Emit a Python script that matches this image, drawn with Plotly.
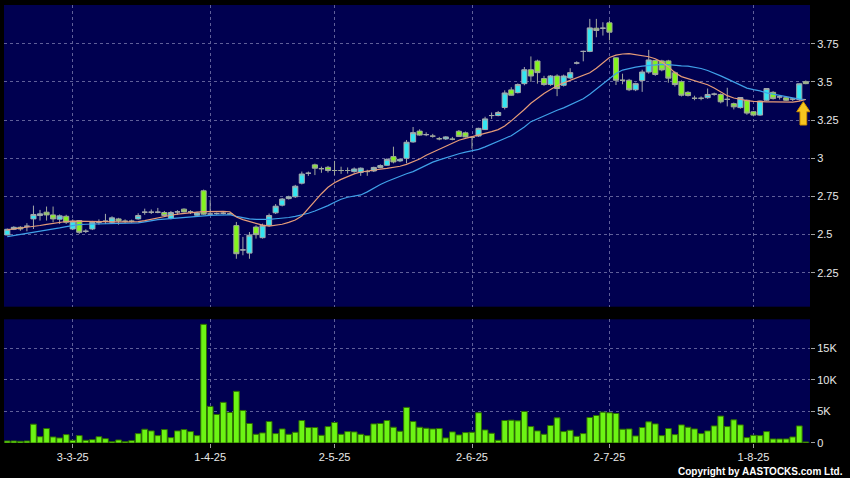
import plotly.graph_objects as go

# ---------------- data ----------------
open_ = [2.498, 2.535, 2.548, 2.555, 2.603, 2.625, 2.647, 2.629, 2.601, 2.620,
         2.537, 2.592, 2.522, 2.537, 2.581, 2.588, 2.581, 2.603, 2.588, 2.588,
         2.603, 2.647, 2.647, 2.647, 2.645, 2.607, 2.649, 2.667, 2.649, 2.627,
         2.787, 2.635, 2.638, 2.640, 2.636, 2.559, 2.400, 2.379, 2.550, 2.480,
         2.561, 2.643, 2.693, 2.736, 2.748, 2.837, 2.902, 2.957, 2.932, 2.941,
         2.920, 2.920, 2.920, 2.913, 2.907, 2.913, 2.917, 2.940, 2.954, 3.011,
         2.983, 3.000, 3.107, 3.178, 3.155, 3.145, 3.128, 3.127, 3.125, 3.177,
         3.167, 3.137, 3.146, 3.188, 3.280, 3.280, 3.333, 3.448, 3.430, 3.489,
         3.580, 3.637, 3.522, 3.483, 3.539, 3.478, 3.526, 3.624, 3.700, 3.700,
         3.852, 3.852, 3.887, 3.658, 3.511, 3.511, 3.449, 3.509, 3.565, 3.641,
         3.638, 3.638, 3.560, 3.502, 3.432, 3.393, 3.393, 3.397, 3.420, 3.418,
         3.386, 3.358, 3.332, 3.380, 3.305, 3.283, 3.380, 3.432, 3.402, 3.397,
         3.388, 3.385, 3.502]
high = [2.540, 2.555, 2.555, 2.575, 2.690, 2.662, 2.684, 2.684, 2.632, 2.630,
        2.600, 2.595, 2.535, 2.590, 2.600, 2.636, 2.620, 2.610, 2.600, 2.598,
        2.640, 2.670, 2.665, 2.675, 2.655, 2.655, 2.660, 2.672, 2.660, 2.650,
        2.795, 2.726, 2.645, 2.648, 2.645, 2.583, 2.485, 2.517, 2.561, 2.572,
        2.638, 2.700, 2.740, 2.755, 2.826, 2.913, 2.913, 2.965, 2.945, 2.950,
        2.983, 2.945, 2.940, 2.940, 2.940, 2.925, 2.945, 2.960, 3.000, 3.076,
        3.000, 3.120, 3.205, 3.190, 3.170, 3.160, 3.140, 3.145, 3.140, 3.185,
        3.175, 3.142, 3.200, 3.272, 3.300, 3.310, 3.445, 3.465, 3.490, 3.598,
        3.667, 3.646, 3.540, 3.545, 3.550, 3.548, 3.590, 3.635, 3.705, 3.913,
        3.913, 3.891, 3.902, 3.660, 3.554, 3.520, 3.495, 3.580, 3.710, 3.645,
        3.645, 3.645, 3.570, 3.510, 3.440, 3.410, 3.405, 3.457, 3.430, 3.425,
        3.462, 3.365, 3.400, 3.385, 3.310, 3.378, 3.460, 3.440, 3.410, 3.405,
        3.395, 3.490, 3.510]
low = [2.495, 2.530, 2.525, 2.522, 2.537, 2.592, 2.592, 2.581, 2.570, 2.570,
       2.530, 2.505, 2.510, 2.530, 2.565, 2.570, 2.575, 2.565, 2.575, 2.578,
       2.598, 2.630, 2.635, 2.640, 2.620, 2.600, 2.630, 2.645, 2.635, 2.620,
       2.630, 2.625, 2.630, 2.632, 2.628, 2.342, 2.365, 2.342, 2.474, 2.474,
       2.555, 2.635, 2.685, 2.730, 2.740, 2.829, 2.885, 2.890, 2.905, 2.907,
       2.890, 2.898, 2.900, 2.905, 2.885, 2.885, 2.910, 2.935, 2.950, 2.967,
       2.975, 2.967, 3.102, 3.148, 3.145, 3.135, 3.118, 3.120, 3.118, 3.140,
       3.137, 3.062, 3.140, 3.185, 3.258, 3.275, 3.320, 3.410, 3.425, 3.478,
       3.500, 3.489, 3.475, 3.475, 3.407, 3.470, 3.520, 3.615, 3.635, 3.695,
       3.793, 3.804, 3.772, 3.480, 3.485, 3.440, 3.440, 3.435, 3.554, 3.540,
       3.570, 3.495, 3.470, 3.405, 3.405, 3.380, 3.380, 3.390, 3.410, 3.360,
       3.340, 3.320, 3.325, 3.285, 3.275, 3.278, 3.375, 3.385, 3.385, 3.375,
       3.375, 3.375, 3.485]
close = [2.535, 2.548, 2.537, 2.555, 2.632, 2.636, 2.629, 2.603, 2.623, 2.581,
         2.588, 2.515, 2.522, 2.581, 2.581, 2.588, 2.610, 2.590, 2.588, 2.588,
         2.625, 2.647, 2.647, 2.647, 2.625, 2.645, 2.649, 2.649, 2.649, 2.642,
         2.634, 2.635, 2.638, 2.640, 2.636, 2.375, 2.400, 2.496, 2.500, 2.561,
         2.625, 2.686, 2.733, 2.748, 2.817, 2.897, 2.902, 2.935, 2.932, 2.920,
         2.920, 2.920, 2.920, 2.930, 2.935, 2.913, 2.940, 2.952, 2.993, 2.976,
         2.993, 3.105, 3.168, 3.152, 3.155, 3.145, 3.128, 3.140, 3.125, 3.143,
         3.140, 3.137, 3.196, 3.258, 3.280, 3.300, 3.428, 3.413, 3.483, 3.580,
         3.539, 3.561, 3.483, 3.539, 3.457, 3.539, 3.561, 3.624, 3.700, 3.854,
         3.837, 3.852, 3.826, 3.511, 3.511, 3.449, 3.489, 3.565, 3.644, 3.549,
         3.579, 3.525, 3.483, 3.413, 3.411, 3.393, 3.393, 3.418, 3.420, 3.370,
         3.386, 3.337, 3.398, 3.296, 3.283, 3.375, 3.457, 3.391, 3.402, 3.380,
         3.388, 3.488, 3.489]
volume = [320, 320, 270, 320, 2980, 1000, 2290, 960, 800, 1330,
          430, 1170, 430, 530, 1000, 690, 210, 480, 210, 370,
          1490, 2180, 1920, 1170, 2130, 850, 1920, 2130, 1810, 1170,
          18800, 5800, 4520, 6440, 4840, 8190, 5160, 3090, 1380, 1600,
          3400, 1490, 2230, 1380, 1700, 3560, 2450, 2450, 1220, 2600,
          3250, 1380, 1810, 1760, 1380, 1170, 3030, 3090, 3560, 2500,
          1860, 5640, 3400, 2500, 2340, 2230, 2290, 800, 1760, 1280,
          1650, 1700, 4790, 2070, 1540, 430, 3560, 3620, 3510, 5000,
          2600, 1920, 1380, 2770, 3990, 1810, 2020, 1060, 1490, 4040,
          4360, 4890, 4790, 4680, 2180, 2230, 1120, 2450, 3350, 3030,
          1170, 2290, 1330, 2870, 2500, 2230, 1490, 1920, 2710, 4260,
          2600, 3670, 2870, 850, 1220, 1170, 1810, 640, 640, 640,
          960, 2710, 160]
ma_fast = [2.532, 2.537, 2.541, 2.546, 2.553, 2.560, 2.567, 2.574, 2.581, 2.586,
           2.588, 2.588, 2.586, 2.586, 2.588, 2.588, 2.586, 2.584, 2.583, 2.582,
           2.585, 2.592, 2.602, 2.612, 2.620, 2.627, 2.634, 2.640, 2.645, 2.648,
           2.651, 2.652, 2.652, 2.652, 2.650, 2.615, 2.598, 2.585, 2.572, 2.562,
           2.556, 2.560, 2.568, 2.580, 2.596, 2.622, 2.672, 2.720, 2.768, 2.810,
           2.840, 2.862, 2.882, 2.898, 2.910, 2.918, 2.924, 2.929, 2.934, 2.939,
           2.948, 2.960, 2.975, 2.995, 3.020, 3.040, 3.062, 3.083, 3.100, 3.118,
           3.130, 3.140, 3.150, 3.162, 3.175, 3.188, 3.212, 3.245, 3.280, 3.320,
           3.360, 3.395, 3.425, 3.450, 3.475, 3.494, 3.510, 3.525, 3.540, 3.560,
           3.590, 3.625, 3.660, 3.676, 3.683, 3.685, 3.678, 3.672, 3.665, 3.652,
           3.630, 3.600, 3.560, 3.535, 3.522, 3.512, 3.500, 3.482, 3.460, 3.435,
           3.410, 3.395, 3.385, 3.378, 3.373, 3.370, 3.370, 3.370, 3.368, 3.366,
           3.368, 3.375, 3.385]
ma_slow = [2.487, 2.494, 2.500, 2.507, 2.515, 2.521, 2.527, 2.535, 2.544, 2.553,
           2.561, 2.566, 2.568, 2.569, 2.570, 2.571, 2.572, 2.573, 2.574, 2.575,
           2.577, 2.584, 2.592, 2.598, 2.601, 2.605, 2.609, 2.613, 2.617, 2.620,
           2.623, 2.626, 2.628, 2.630, 2.630, 2.620, 2.610, 2.603, 2.600, 2.599,
           2.600, 2.604, 2.607, 2.612, 2.620, 2.628, 2.640, 2.655, 2.670, 2.690,
           2.712, 2.732, 2.745, 2.753, 2.760, 2.780, 2.805, 2.828, 2.848, 2.866,
           2.884, 2.899, 2.913, 2.935, 2.958, 2.975, 2.990, 3.005, 3.018, 3.030,
           3.040, 3.048, 3.058, 3.075, 3.095, 3.110, 3.130, 3.148, 3.175, 3.205,
           3.240, 3.260, 3.278, 3.295, 3.315, 3.330, 3.350, 3.370, 3.390, 3.420,
           3.455, 3.490, 3.525, 3.555, 3.578, 3.590, 3.597, 3.603, 3.608, 3.612,
           3.615, 3.613, 3.608, 3.605, 3.603, 3.598, 3.588, 3.575, 3.560, 3.540,
           3.520, 3.500, 3.478, 3.460, 3.450, 3.442, 3.428, 3.420, 3.410, 3.402,
           3.392, 3.387, 3.385]

date_tick_index = [10, 31, 50, 71, 92, 114]
date_tick_labels = ["3-3-25", "1-4-25", "2-5-25", "2-6-25", "2-7-25", "1-8-25"]
price_ticks = [2.25, 2.5, 2.75, 3, 3.25, 3.5, 3.75]
price_tick_labels = ["2.25", "2.5", "2.75", "3", "3.25", "3.5", "3.75"]
vol_ticks = [0, 5000, 10000, 15000]
vol_tick_labels = ["0", "5K", "10K", "15K"]

# ---------------- styling ----------------
FONT = "Liberation Sans, Arial, sans-serif"
GRID = "#5f5f99"
TICKC = "#a0a0a0"
LABEL = "#e8e8e8"

x = list(range(len(close)))

fig = go.Figure()
fig.add_trace(go.Candlestick(
    x=x, open=open_, high=high, low=low, close=close,
    xaxis="x", yaxis="y",
    increasing=dict(fillcolor="#33e6f2", line=dict(color="#a4aaac", width=1)),
    decreasing=dict(fillcolor="#84f41e", line=dict(color="#a0a89c", width=1)),
    whiskerwidth=0, showlegend=False, hoverinfo="skip"))
fig.add_trace(go.Scatter(x=x, y=ma_slow, mode="lines", xaxis="x", yaxis="y",
                         line=dict(color="#3fa0e8", width=1.2), showlegend=False,
                         hoverinfo="skip"))
fig.add_trace(go.Scatter(x=x, y=ma_fast, mode="lines", xaxis="x", yaxis="y",
                         line=dict(color="#e69b78", width=1.2), showlegend=False,
                         hoverinfo="skip"))
fig.add_trace(go.Bar(x=x, y=volume, xaxis="x2", yaxis="y2",
                     marker=dict(color="#6cf414", line=dict(color="#2f6e00", width=1)),
                     showlegend=False, hoverinfo="skip"))

xr = [-0.5, len(close) - 0.36]
common_x = dict(range=xr, tickvals=date_tick_index, showgrid=True, gridcolor=GRID,
                gridwidth=1, griddash="3px,3px", zeroline=False, showline=False,
                fixedrange=True)
common_y = dict(side="right", ticks="outside", ticklen=4, tickcolor=TICKC,
                tickfont=dict(family=FONT, size=11, color=LABEL), showgrid=True,
                gridcolor=GRID, gridwidth=1, griddash="3px,3px", zeroline=False,
                showline=False, fixedrange=True)

fig.update_layout(
    width=850, height=478,
    paper_bgcolor="#000000", plot_bgcolor="#000050",
    margin=dict(l=4, r=40, t=5, b=35),
    showlegend=False, boxgap=0.22, boxgroupgap=0, bargap=0.12,
    font=dict(family=FONT, color=LABEL),
    xaxis=dict(domain=[0, 1], anchor="y", showticklabels=False, ticks="",
               rangeslider=dict(visible=False), **common_x),
    yaxis=dict(domain=[0.3112, 1], anchor="x", range=[2.028, 4.004],
               tickvals=price_ticks, ticktext=price_tick_labels, **common_y),
    xaxis2=dict(domain=[0, 1], anchor="y2", matches="x", ticktext=date_tick_labels,
                ticks="outside", ticklen=4, tickcolor=TICKC,
                tickfont=dict(family=FONT, size=11, color=LABEL), **common_x),
    yaxis2=dict(domain=[0, 0.2824], anchor="x2", range=[0, 19600],
                tickvals=vol_ticks, ticktext=vol_tick_labels, **common_y),
)

# yellow marker arrow under the latest bar
fig.add_shape(type="path", xref="x", yref="y", xsizemode="pixel", ysizemode="pixel",
              xanchor=x[-1], yanchor=ma_slow[-1],
              path="M -2.5,-2.2 L 4.2,-12.2 L 0.9,-12.2 L 0.9,-25.5 L -5.8,-25.5 "
                   "L -5.8,-12.2 L -9.1,-12.2 Z",
              fillcolor="#f7c520", line=dict(color="#d09000", width=1), layer="above")

fig.add_annotation(text="<b>Copyright by AASTOCKS.com Ltd.</b>", xref="paper", yref="paper",
                   x=1.0434, y=-0.0662, xanchor="right", yanchor="middle", showarrow=False,
                   font=dict(family=FONT, size=10, color="#ffffff"))

fig.write_html("out.html", config={"displayModeBar": False},
               post_script="document.body.style.margin='0';document.body.style.padding='0';")
